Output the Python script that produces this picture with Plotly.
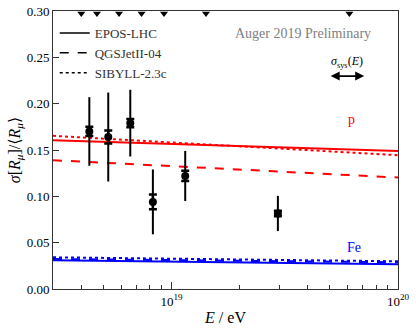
import numpy as np
import plotly.graph_objects as go

# data points (energy in eV)
energy = [4.34e18, 5.26e18, 6.58e18, 8.28e18, 1.15e19, 2.95e19]
sigma_r = [0.170, 0.164, 0.179, 0.094, 0.122, 0.0815]
err_stat = [0.037, 0.048, 0.036, 0.035, 0.027, 0.019]
err_sys = [0.005, 0.007, 0.0045, 0.008, 0.0055, 0.003]

# bin edge markers on top axis
bin_edges = [4.0e18, 4.69e18, 5.87e18, 7.38e18, 9.27e18, 1.42e19, 6.1e19]

# model predictions at the ends of the energy range
model_e = [3e18, 1e20]
p_epos = [0.1606, 0.1488]
p_qgsjet = [0.1390, 0.1203]
p_sibyll = [0.1653, 0.1444]
fe_epos = [0.0310, 0.0267]
fe_qgsjet = [0.0324, 0.0288]
fe_sibyll = [0.0342, 0.0299]

font = "Liberation Serif, DejaVu Serif, serif"
red = "#ff0000"
blue = "#0000ff"

fig = go.Figure()

# model lines
models = [
    (p_epos, red, "solid"), (p_qgsjet, red, "dash"), (p_sibyll, red, "dot"),
    (fe_epos, blue, "solid"), (fe_qgsjet, blue, "dash"), (fe_sibyll, blue, "dot"),
]
for vals, col, dash in models:
    fig.add_trace(go.Scatter(x=model_e, y=vals, mode="lines",
                             line=dict(color=col, width=2, dash=dash),
                             showlegend=False))

# legend entries (black)
for name, dash in [("EPOS-LHC", "solid"), ("QGSJetII-04", "dash"), ("SIBYLL-2.3c", "dot")]:
    fig.add_trace(go.Scatter(x=[None], y=[None], mode="lines", name=name,
                             line=dict(color="black", width=1.5, dash=dash)))

# systematic brackets
fig.add_trace(go.Scatter(x=energy, y=sigma_r, mode="markers",
                         marker=dict(size=1, color="black"),
                         error_y=dict(type="data", array=err_sys, color="black",
                                      thickness=2.5, width=4),
                         showlegend=False))
# statistical errors and points
fig.add_trace(go.Scatter(x=energy, y=sigma_r, mode="markers",
                         marker=dict(size=8, color="black"),
                         error_y=dict(type="data", array=err_stat, color="black",
                                      thickness=2, width=0),
                         showlegend=False))

# bin edge triangles
fig.add_trace(go.Scatter(x=bin_edges, y=[0.2972] * len(bin_edges), mode="markers",
                         marker=dict(symbol="triangle-down", size=7, color="black"),
                         cliponaxis=False, showlegend=False))

def label(x, y, text, size, color):
    fig.add_annotation(x=x, y=y, xref="paper", yref="paper", showarrow=False,
                       xanchor="center", yanchor="middle",
                       text=text, font=dict(size=size, color=color))

label(0.724, 0.92, "Auger 2019 Preliminary", 14, "#808080")
label(0.852, 0.815, "<i>σ</i><sub>sys</sub>(<i>E</i>)", 12, "black")
label(0.864, 0.61, "p", 14, red)
label(0.873, 0.149, "Fe", 14, blue)

# double arrow for the energy systematic
fig.add_annotation(x=0.902, y=0.766, xref="paper", yref="paper", text="",
                   showarrow=True, ax=-35, ay=0, arrowside="end+start",
                   arrowhead=2, startarrowhead=2, arrowsize=1, arrowwidth=1.8,
                   arrowcolor="black")

fig.update_layout(
    width=416, height=329,
    margin=dict(l=53, r=18, t=11, b=40, autoexpand=False),
    plot_bgcolor="white", paper_bgcolor="white",
    font=dict(family=font, size=13, color="black"),
    legend=dict(x=0.005, y=0.975, xanchor="left", yanchor="top",
                bgcolor="rgba(0,0,0,0)", font=dict(size=13, color="#333"),
                tracegroupgap=0),
)
fig.update_xaxes(type="log", range=[np.log10(3e18), 20], automargin=False,
                 tickvals=[1e19, 1e20], ticktext=["10<sup>19</sup>", "10<sup>20</sup>"],
                 ticks="inside", ticklen=7, tickcolor="#333",
                 minor=dict(ticks="inside", ticklen=4, tickcolor="#333",
                            tickvals=[4e18, 5e18, 6e18, 7e18, 8e18, 9e18,
                                      2e19, 3e19, 4e19, 5e19, 6e19, 7e19, 8e19, 9e19]),
                 showgrid=False, zeroline=False,
                 showline=True, linecolor="#333", linewidth=1, mirror=True,
                 title=dict(text="<i>E</i> / eV", standoff=4))
fig.update_yaxes(range=[0, 0.30], tickvals=[0, 0.05, 0.10, 0.15, 0.20, 0.25, 0.30],
                 automargin=False,
                 tickformat=".2f", ticks="inside", ticklen=6, tickcolor="#333",
                 showgrid=False, zeroline=False,
                 showline=True, linecolor="#333", linewidth=1, mirror=True,
                 title=dict(text="<i>σ</i>[<i>R</i><sub><i>μ</i></sub>]/⟨<i>R</i><sub><i>μ</i></sub>⟩",
                            standoff=2))

# drop the default page margin so the figure sits at the window corner
fig.write_html("out.html", config={"displayModeBar": False},
               post_script="document.body.style.margin='0';")
